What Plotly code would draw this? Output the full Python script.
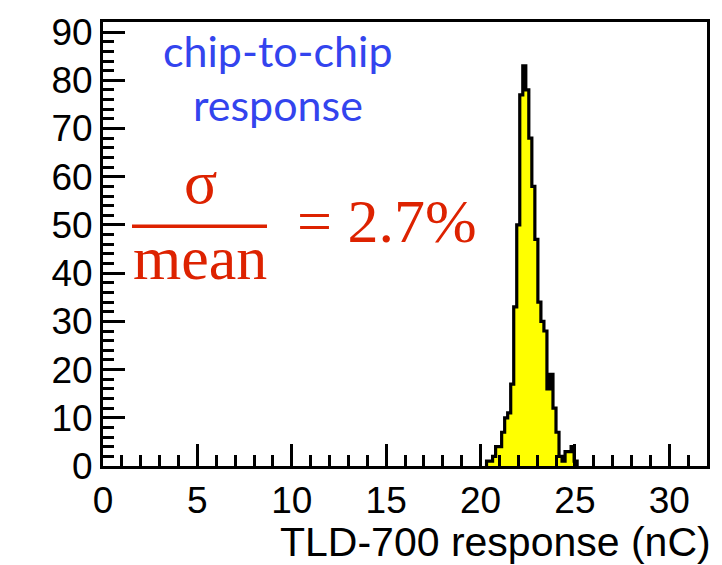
import plotly.graph_objects as go

# ---- data ----
bin_edges = [20.32, 20.48, 20.64, 20.80, 20.96, 21.12, 21.28, 21.44, 21.60, 21.76,
             21.92, 22.08, 22.24, 22.40, 22.56, 22.72, 22.88, 23.04, 23.20, 23.36,
             23.52, 23.68, 23.84, 24.00, 24.16, 24.32, 24.48, 24.64, 24.80, 24.96,
             25.12]
counts = [1, 1, 2, 4, 4, 7, 10, 11, 17, 33,
          50, 77, 83, 78, 68, 58, 47, 34, 30, 28,
          16, 19, 12, 7, 2, 1, 3, 3, 4, 1]
x_ticks = [0, 5, 10, 15, 20, 25, 30]
y_ticks = [0, 10, 20, 30, 40, 50, 60, 70, 80, 90]
x_title = "TLD-700 response (nC)"
label_line1 = "chip-to-chip"
label_line2 = "response"
numerator = "σ"
denominator = "mean"
result_text = "= 2.7%"

# step outline of the histogram
xs = [bin_edges[0]] + bin_edges[:-1] + [bin_edges[-1]]
ys = [0] + counts + [0]

W, H = 722, 565
L, R, T, B = 103, 15, 14, 99
pw, ph = W - L - R, H - T - B

def px(x):
    return (x - L) / pw

def py(y):
    return (H - B - y) / ph

fig = go.Figure()
fig.add_trace(go.Scatter(
    x=xs, y=ys, mode="lines", line_shape="hv",
    line=dict(color="black", width=3.2),
    fill="tozeroy", fillcolor="#ffff00",
    hoverinfo="skip", showlegend=False))

axis_font = dict(family="Liberation Sans, Arial, sans-serif", size=37, color="black")

fig.update_layout(
    width=W, height=H,
    margin=dict(l=L, r=R, t=T, b=B, pad=0),
    paper_bgcolor="white", plot_bgcolor="white",
    showlegend=False,
    xaxis=dict(range=[0, 32], tickmode="array", tickvals=x_ticks,
               ticktext=[str(v) for v in x_ticks],
               ticks="inside", ticklen=22, tickwidth=3, tickcolor="black",
               minor=dict(dtick=1, tick0=0, ticks="inside", ticklen=11,
                          tickwidth=3, tickcolor="black", showgrid=False),
               showline=True, linewidth=3, linecolor="black", mirror=True,
               showgrid=False, zeroline=False, tickfont=axis_font),
    yaxis=dict(range=[0, 92.1], tickmode="array", tickvals=y_ticks,
               ticktext=[str(v) for v in y_ticks],
               ticks="inside", ticklen=22, tickwidth=3, tickcolor="black",
               minor=dict(dtick=2, tick0=0, ticks="inside", ticklen=11,
                          tickwidth=3, tickcolor="black", showgrid=False),
               showline=True, linewidth=3, linecolor="black", mirror=True,
               showgrid=False, zeroline=False, tickfont=axis_font),
)

blue = "#3344ee"
red = "#dd2200"
sans2 = "Lato, Open Sans, sans-serif"
serif = "Liberation Serif, DejaVu Serif, serif"

annos = [
    dict(text=label_line1, x=px(278), y=py(43), xanchor="center", yanchor="middle",
         font=dict(family=sans2, size=43, color=blue)),
    dict(text=label_line2, x=px(278), y=py(98), xanchor="center", yanchor="middle",
         font=dict(family=sans2, size=43, color=blue)),
    dict(text=numerator, x=px(200), y=py(177), xanchor="center", yanchor="middle",
         font=dict(family=serif, size=62, color=red)),
    dict(text=denominator, x=px(200), y=py(254), xanchor="center", yanchor="middle",
         font=dict(family=serif, size=62, color=red)),
    dict(text=result_text, x=px(295), y=py(217), xanchor="left", yanchor="middle",
         font=dict(family=serif, size=62, color=red)),
    dict(text=x_title, x=px(713), y=py(543), xanchor="right", yanchor="middle",
         font=dict(family="Liberation Sans, Arial, sans-serif", size=41, color="black")),
]
for a in annos:
    a.update(xref="paper", yref="paper", showarrow=False)
fig.update_layout(annotations=annos)

fig.add_shape(type="line", xref="paper", yref="paper",
              x0=px(132), x1=px(267), y0=py(222), y1=py(222),
              line=dict(color=red, width=3.5))

fig.write_html("out.html")
